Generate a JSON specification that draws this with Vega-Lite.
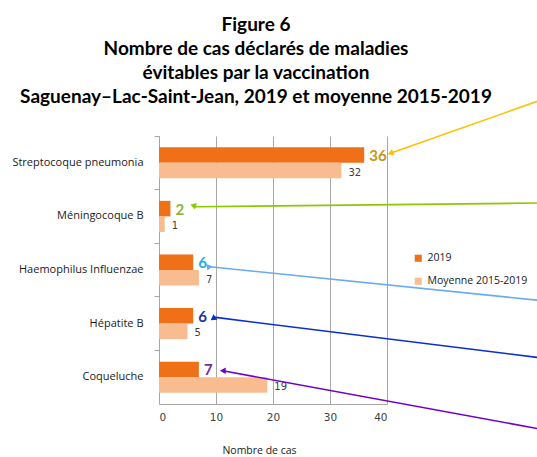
{
  "$schema": "https://vega.github.io/schema/vega-lite/v6.json",
  "autosize": "none",
  "width": 228,
  "height": 268,
  "padding": {"left": 159, "top": 136, "right": 150, "bottom": 53},
  "background": "white",
  "config": {"view": {"stroke": null}},
  "title": {
    "text": ["Figure 6", "Nombre de cas déclarés de maladies", "évitables par la vaccination", "Saguenay–Lac-Saint-Jean, 2019 et moyenne 2015-2019"],
    "font": "Lato",
    "fontSize": 19,
    "fontWeight": "bold",
    "color": "#000000",
    "lineHeight": 24,
    "anchor": "middle",
    "frame": "group",
    "dx": -17,
    "offset": -8
  },
  "layer": [
    {
      "data": {"values": [
        {"cat": "Streptocoque pneumonia", "series": "2019", "value": 36},
        {"cat": "Streptocoque pneumonia", "series": "Moyenne 2015-2019", "value": 32},
        {"cat": "Méningocoque B", "series": "2019", "value": 2},
        {"cat": "Méningocoque B", "series": "Moyenne 2015-2019", "value": 1},
        {"cat": "Haemophilus Influenzae", "series": "2019", "value": 6},
        {"cat": "Haemophilus Influenzae", "series": "Moyenne 2015-2019", "value": 7},
        {"cat": "Hépatite B", "series": "2019", "value": 6},
        {"cat": "Hépatite B", "series": "Moyenne 2015-2019", "value": 5},
        {"cat": "Coqueluche", "series": "2019", "value": 7},
        {"cat": "Coqueluche", "series": "Moyenne 2015-2019", "value": 19}
      ]},
      "encoding": {
        "y": {
          "field": "cat", "type": "nominal",
          "sort": ["Streptocoque pneumonia", "Méningocoque B", "Haemophilus Influenzae", "Hépatite B", "Coqueluche"],
          "scale": {"paddingInner": 0.42, "paddingOuter": 0.21},
          "axis": {
            "title": null,
            "labelFont": "Open Sans", "labelFontSize": 11, "labelColor": "#1a1a1a",
            "labelPadding": 11,
            "domainColor": "#a6a6a6", "tickColor": "#a6a6a6", "tickSize": 5,
            "bandPosition": -0.362
          }
        },
        "yOffset": {"field": "series", "type": "nominal", "sort": ["2019", "Moyenne 2015-2019"], "scale": {"paddingInner": 0, "paddingOuter": 0}},
        "x": {
          "field": "value", "type": "quantitative",
          "scale": {"domain": [0, 40], "nice": false},
          "axis": {
            "values": [0, 10, 20, 30, 40],
            "grid": true, "gridColor": "#a8a8a8",
            "ticks": false, "labelPadding": 8,
            "domainColor": "#a6a6a6",
            "labelFont": "DejaVu Sans", "labelFontSize": 10.5, "labelColor": "#404040",
            "title": "Nombre de cas",
            "titleFont": "Open Sans", "titleFontSize": 10.5, "titleFontWeight": "normal", "titleColor": "#1a1a1a",
            "titleX": 100, "titleY": 46, "titleAlign": "center", "titleBaseline": "middle"
          }
        }
      },
      "layer": [
        {
          "mark": {"type": "bar"},
          "encoding": {
            "color": {
              "field": "series", "type": "nominal",
              "scale": {"domain": ["2019", "Moyenne 2015-2019"], "range": ["#F07018", "#F8BC90"]},
              "legend": {
                "title": null, "orient": "none", "legendX": 254, "legendY": 117,
                "symbolType": "square", "symbolSize": 50, "symbolStrokeWidth": 0,
                "labelFont": "Open Sans", "labelFontSize": 10.5, "labelColor": "#1a1a1a",
                "rowPadding": 12, "labelOffset": 4, "padding": 0
              }
            }
          }
        },
        {
          "transform": [{"filter": "datum.series === '2019'"}],
          "mark": {"type": "text", "align": "left", "baseline": "middle", "dx": 5, "dy": 1, "font": "Lato", "fontSize": 15, "fontWeight": "bold"},
          "encoding": {
            "text": {"field": "value", "type": "quantitative"},
            "color": {
              "field": "cat", "type": "nominal",
              "scale": {"domain": ["Streptocoque pneumonia", "Méningocoque B", "Haemophilus Influenzae", "Hépatite B", "Coqueluche"],
                        "range": ["#C0961A", "#8DB33A", "#1AAEEB", "#1F2E9E", "#7030A0"]},
              "legend": null
            }
          }
        },
        {
          "transform": [{"filter": "datum.series !== '2019'"}],
          "mark": {"type": "text", "align": "left", "baseline": "middle", "dx": 7, "dy": 2, "font": "DejaVu Sans", "fontSize": 10, "color": "#404040"},
          "encoding": {
            "text": {"field": "value", "type": "quantitative"}
          }
        }
      ],
      "resolve": {"scale": {"color": "independent"}}
    },
    {
      "data": {"values": [
        {"cat": "Streptocoque pneumonia", "x": 67, "y": -0.67, "x2": 40.6, "y2": 0.32},
        {"cat": "Méningocoque B", "x": 67, "y": 1.25, "x2": 6.2, "y2": 1.32},
        {"cat": "Haemophilus Influenzae", "x": 67, "y": 3.07, "x2": 8.9, "y2": 2.44},
        {"cat": "Hépatite B", "x": 67, "y": 4.14, "x2": 9.6, "y2": 3.38},
        {"cat": "Coqueluche", "x": 67, "y": 5.47, "x2": 11.2, "y2": 4.38}
      ]},
      "layer": [
        {
          "mark": {"type": "rule", "strokeWidth": 1.6, "clip": false},
          "encoding": {
            "x": {"field": "x", "type": "quantitative", "scale": {"domain": [0, 40], "nice": false}, "axis": null},
            "x2": {"field": "x2"},
            "y": {"field": "y", "type": "quantitative", "scale": {"domain": [0, 5], "reverse": true, "nice": false, "zero": false}, "axis": null},
            "y2": {"field": "y2"},
            "color": {
              "field": "cat", "type": "nominal",
              "scale": {"domain": ["Streptocoque pneumonia", "Méningocoque B", "Haemophilus Influenzae", "Hépatite B", "Coqueluche"],
                        "range": ["#FFC000", "#8CC800", "#6AAAF0", "#0A2ED0", "#7000C8"]},
              "legend": null
            }
          }
        },
        {
          "mark": {"type": "point", "shape": "triangle-left", "filled": true, "size": 45, "opacity": 1, "clip": false},
          "encoding": {
            "x": {"field": "x2", "type": "quantitative", "scale": {"domain": [0, 40], "nice": false}, "axis": null},
            "y": {"field": "y2", "type": "quantitative", "scale": {"domain": [0, 5], "reverse": true, "nice": false, "zero": false}, "axis": null},
            "angle": {"field": "cat", "type": "ordinal",
              "scale": {"domain": ["Streptocoque pneumonia", "Méningocoque B", "Haemophilus Influenzae", "Hépatite B", "Coqueluche"],
                        "range": [340, 0, 6, 7, 10]},
              "legend": null},
            "color": {
              "field": "cat", "type": "nominal",
              "scale": {"domain": ["Streptocoque pneumonia", "Méningocoque B", "Haemophilus Influenzae", "Hépatite B", "Coqueluche"],
                        "range": ["#FFC000", "#8CC800", "#6AAAF0", "#0A2ED0", "#7000C8"]},
              "legend": null
            }
          }
        }
      ]
    }
  ],
  "resolve": {"scale": {"y": "independent", "color": "independent", "angle": "independent"}, "axis": {"x": "independent"}}
}
